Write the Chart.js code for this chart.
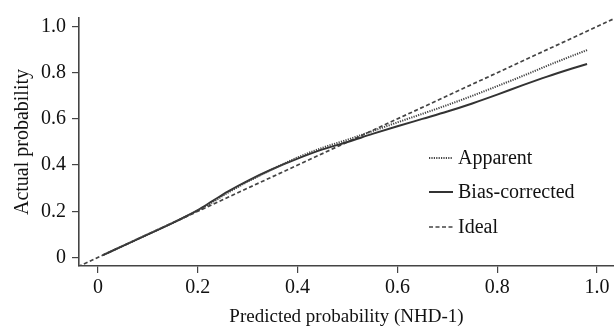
<!DOCTYPE html>
<html>
<head>
<meta charset="utf-8">
<script src="https://cdn.jsdelivr.net/npm/chart.js@4.4.1/dist/chart.umd.min.js"></script>
<style>
  html, body { margin: 0; padding: 0; background: #fff; }
  #wrap { width: 614px; height: 331px; position: relative; }
</style>
</head>
<body>
<div id="wrap"><canvas id="chart-calib"></canvas></div>
<script>
// predicted probability grid for the calibration curves
const predX = [0.01, 0.05, 0.10, 0.15, 0.20, 0.23, 0.26, 0.30, 0.35, 0.40, 0.45, 0.50, 0.55, 0.60, 0.65, 0.70, 0.75, 0.80, 0.85, 0.90, 0.95, 0.98];
const apparentY = [0.01, 0.05, 0.10, 0.15, 0.203, 0.240, 0.280, 0.328, 0.383, 0.433, 0.475, 0.510, 0.547, 0.585, 0.622, 0.660, 0.700, 0.742, 0.785, 0.830, 0.873, 0.898];
const biasY = [0.01, 0.05, 0.10, 0.15, 0.205, 0.245, 0.285, 0.332, 0.383, 0.428, 0.468, 0.500, 0.535, 0.568, 0.600, 0.632, 0.667, 0.705, 0.745, 0.783, 0.818, 0.838];
const idealX = [-0.04, 1.04];
const idealY = [-0.04, 1.04];
const tickVals = [0, 0.2, 0.4, 0.6, 0.8, 1.0];
const tickLabels = ['0', '0.2', '0.4', '0.6', '0.8', '1.0'];
const seriesNames = ['Apparent', 'Bias-corrected', 'Ideal'];

const FONT = 'Liberation Serif';

function toPoints(xs, ys) {
    return xs.map((x, i) => ({ x: x, y: ys[i] }));
}

// legend drawn inside the plot, like the original figure
const innerLegend = {
    id: 'innerLegend',
    afterDraw(chart) {
        const ctx = chart.ctx;
        const rows = [158, 192, 227];
        ctx.save();
        chart.data.datasets.forEach((ds, i) => {
            const y = rows[i];
            ctx.strokeStyle = ds.borderColor;
            ctx.lineWidth = ds.borderWidth;
            ctx.setLineDash(ds.borderDash || []);
            ctx.beginPath();
            ctx.moveTo(429, y);
            ctx.lineTo(453, y);
            ctx.stroke();
            ctx.setLineDash([]);
            ctx.fillStyle = '#111';
            ctx.font = '20px "' + FONT + '"';
            ctx.textBaseline = 'middle';
            ctx.textAlign = 'left';
            ctx.fillText(seriesNames[i], 458, y + 1);
        });
        ctx.restore();
    }
};

const axisColor = '#444';

new Chart(document.getElementById('chart-calib'), {
    type: 'line',
    data: {
        datasets: [{
            label: seriesNames[0],
            data: toPoints(predX, apparentY),
            borderColor: '#444',
            borderWidth: 2,
            borderDash: [1.2, 1.2],
            pointRadius: 0,
            cubicInterpolationMode: 'monotone'
        }, {
            label: seriesNames[1],
            data: toPoints(predX, biasY),
            borderColor: '#333',
            borderWidth: 2,
            pointRadius: 0,
            cubicInterpolationMode: 'monotone'
        }, {
            label: seriesNames[2],
            data: toPoints(idealX, idealY),
            borderColor: '#444',
            borderWidth: 1.7,
            borderDash: [4, 2.5],
            pointRadius: 0
        }]
    },
    options: {
        responsive: true,
        maintainAspectRatio: false,
        animation: false,
        layout: { padding: { top: 12, left: 0, right: 0, bottom: 0 } },
        plugins: {
            legend: { display: false },
            tooltip: { enabled: false }
        },
        scales: {
            x: {
                type: 'linear',
                min: -0.038,
                max: 1.034,
                afterBuildTicks: (s) => { s.ticks = tickVals.map(v => ({ value: v })); },
                afterFit: (s) => { s.height = 65; },
                grid: { drawOnChartArea: false, drawTicks: true, tickLength: 7, color: axisColor, lineWidth: 1.2 },
                border: { display: true, color: axisColor, width: 1.6 },
                ticks: {
                    color: '#111',
                    padding: 3,
                    maxRotation: 0,
                    font: { family: FONT, size: 20 },
                    callback: (v) => tickLabels[tickVals.indexOf(v)]
                },
                title: {
                    display: true,
                    text: 'Predicted probability (NHD-1)',
                    color: '#111',
                    font: { family: FONT, size: 19 },
                    padding: { top: 0, bottom: 3 }
                }
            },
            y: {
                type: 'linear',
                min: -0.037,
                max: 1.037,
                afterBuildTicks: (s) => { s.ticks = tickVals.map(v => ({ value: v })); },
                afterFit: (s) => { s.width = 79; },
                grid: { drawOnChartArea: false, drawTicks: true, tickLength: 7, color: axisColor, lineWidth: 1.2 },
                border: { display: true, color: axisColor, width: 1.6 },
                ticks: {
                    color: '#111',
                    padding: 6,
                    font: { family: FONT, size: 20 },
                    callback: (v) => tickLabels[tickVals.indexOf(v)]
                },
                title: {
                    display: true,
                    text: 'Actual probability',
                    color: '#111',
                    font: { family: FONT, size: 20 },
                    padding: { top: 11, bottom: 0 }
                }
            }
        }
    },
    plugins: [innerLegend]
});
</script>
</body>
</html>
